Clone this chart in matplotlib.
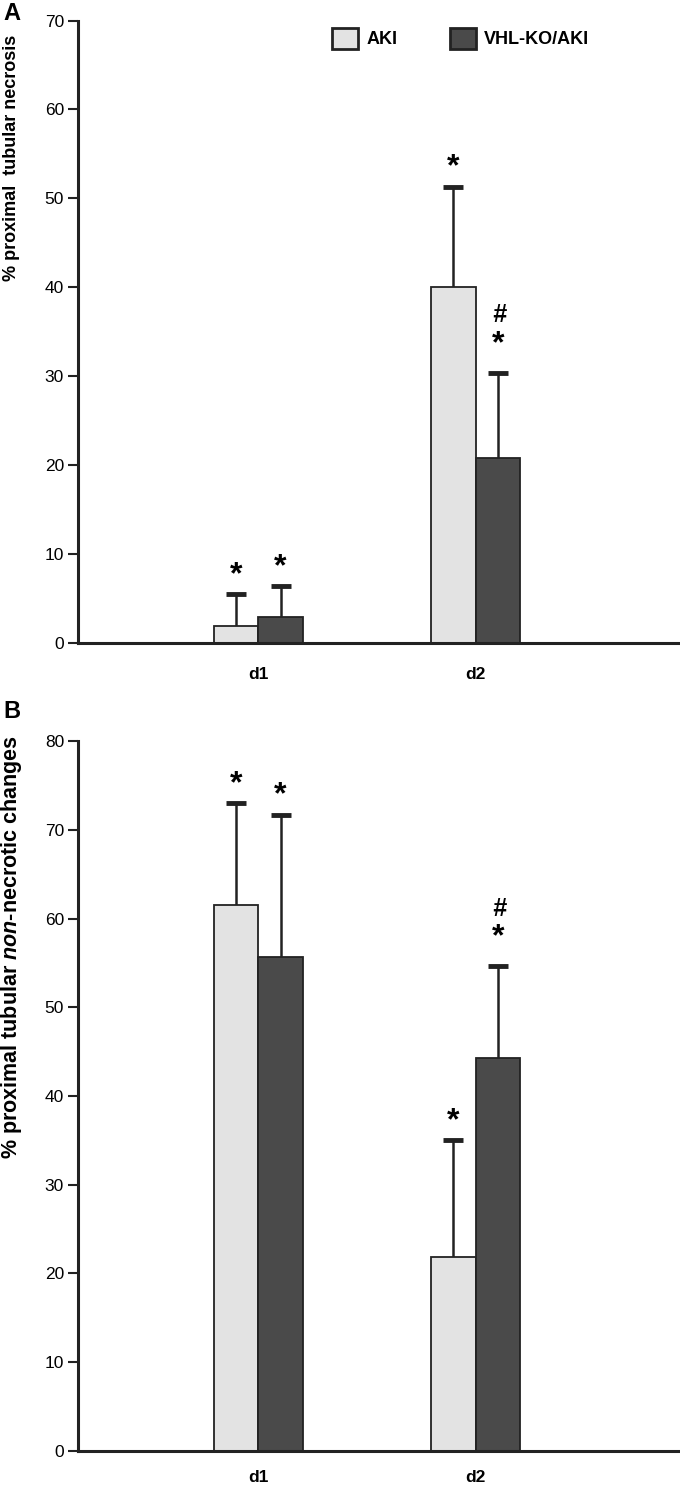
import numpy as np
import matplotlib
matplotlib.use("Agg")
import matplotlib.pyplot as plt

plt.rcParams['font.family'] = ['Liberation Sans', 'DejaVu Sans']
plt.rcParams['mathtext.fontset'] = 'custom'
plt.rcParams['mathtext.bfit'] = 'Liberation Sans:bold:italic'
plt.rcParams['mathtext.bf'] = 'Liberation Sans:bold'
plt.rcParams['mathtext.rm'] = 'Liberation Sans:bold'

days = ['d1', 'd2']
groups = ['AKI', 'VHL-KO/AKI']

# panel A: % proximal tubular necrosis
necr_aki = [1.9, 40.0]
necr_aki_sd = [3.6, 11.3]
necr_vhl = [2.9, 20.8]
necr_vhl_sd = [3.5, 9.6]
necr_hash_vhl = [False, True]

# panel B: % proximal tubular non-necrotic changes
nonn_aki = [61.5, 21.8]
nonn_aki_sd = [11.5, 13.2]
nonn_vhl = [55.7, 44.3]
nonn_vhl_sd = [16.0, 10.3]
nonn_hash_vhl = [False, True]

c_aki = '#e3e3e3'
c_vhl = '#4a4a4a'
edge = '#222222'
w = 0.205
x = np.array([1, 2])

fig = plt.figure(figsize=(6.8, 14.88), dpi=100)
axA = fig.add_axes([0.1147, 0.5679, 0.8853, 0.4183])
axB = fig.add_axes([0.1147, 0.0249, 0.8853, 0.4771])


def panel(ax, aki, aki_sd, vhl, vhl_sd, hash_vhl, ymax, xpad):
    ax.bar(x - w / 2, aki, w, color=c_aki, edgecolor=edge, linewidth=1.3, label=groups[0], zorder=2)
    ax.bar(x + w / 2, vhl, w, color=c_vhl, edgecolor=edge, linewidth=1.3, label=groups[1], zorder=2)
    for xs, v, sd, hs in [(x - w / 2, aki, aki_sd, [False, False]), (x + w / 2, vhl, vhl_sd, hash_vhl)]:
        eb = ax.errorbar(xs, v, yerr=[np.zeros(len(v)), sd], fmt='none', ecolor=edge,
                         elinewidth=1.8, capsize=7.5, capthick=3.5, zorder=1)
        eb[1][0].set_visible(False)
        for xi, vi, si, h in zip(xs, v, sd, hs):
            off = 10 if h else 3
            ax.annotate('*', (xi, vi + si), xytext=(0, off), textcoords='offset points',
                        ha='center', va='bottom', fontsize=23, fontweight='bold')
            if h:
                ax.annotate('#', (xi, vi + si), xytext=(1, off + 23), textcoords='offset points',
                            ha='center', va='bottom', fontsize=18, fontstyle='italic',
                            fontweight='bold')
    ax.set_xlim(0.17, 2.94)
    ax.set_ylim(0, ymax)
    ax.set_yticks(np.arange(0, ymax + 1, 10))
    ax.set_xticks(x)
    ax.set_xticklabels(days, fontweight='bold', fontsize=12.5)
    ax.tick_params(axis='x', length=0, pad=xpad)
    ax.tick_params(axis='y', length=7, width=1.5, labelsize=12.5, pad=3, color=edge)
    for s in ['top', 'right']:
        ax.spines[s].set_visible(False)
    for s in ['left', 'bottom']:
        ax.spines[s].set_linewidth(2.2)
        ax.spines[s].set_color(edge)


panel(axA, necr_aki, necr_aki_sd, necr_vhl, necr_vhl_sd, necr_hash_vhl, 70, 17)
panel(axB, nonn_aki, nonn_aki_sd, nonn_vhl, nonn_vhl_sd, nonn_hash_vhl, 80, 14)

fig.text(12 / 680, 1 - 35 / 1488, '% proximal  tubular necrosis', rotation=90,
         ha='center', va='top', fontsize=13, fontweight='bold')
fig.text(12 / 680, 1 - 735 / 1488, r'% proximal tubular $\mathbfit{non}$-necrotic changes',
         rotation=90, ha='center', va='top', fontsize=15.5, fontweight='bold')

leg = axA.legend(loc='upper left', bbox_to_anchor=(0.41, 1.0), ncol=2, frameon=False,
                 handlelength=1.45, handleheight=1.45, handletextpad=0.45, columnspacing=2.9,
                 borderaxespad=0, prop={'weight': 'bold', 'size': 13})
for h in leg.legend_handles:
    h.set_linewidth(2)

fig.text(3 / 680, 1 - 2 / 1488, 'A', fontsize=17, fontweight='bold', va='top')
fig.text(3 / 680, 1 - 700 / 1488, 'B', fontsize=17, fontweight='bold', va='top')

fig.savefig('out.png', dpi=100)
